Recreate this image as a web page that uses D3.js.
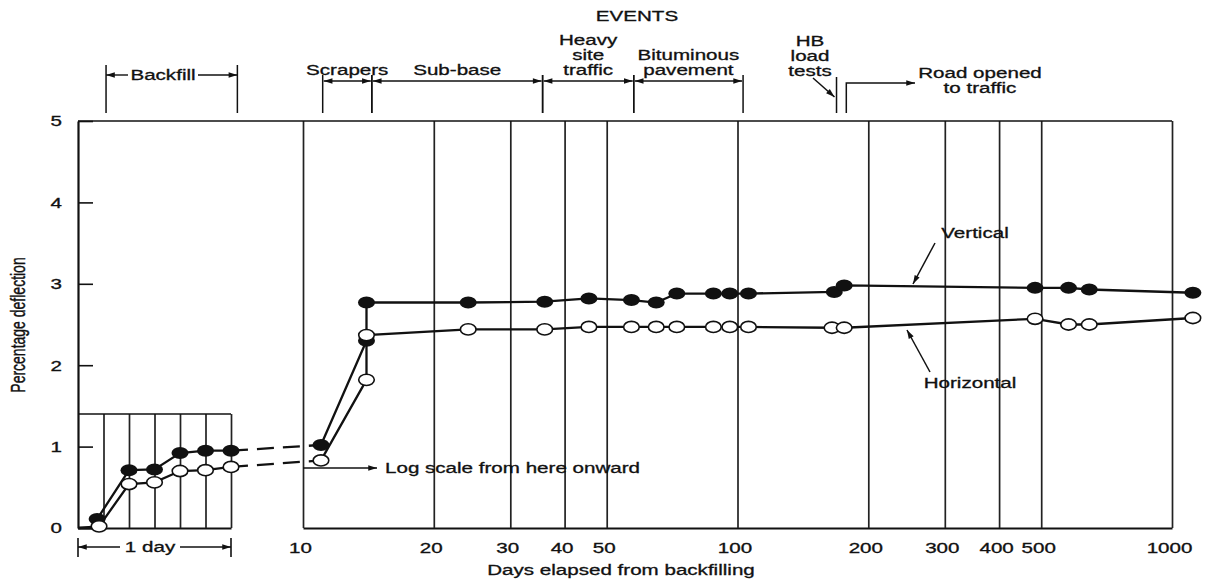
<!DOCTYPE html>
<html>
<head>
<meta charset="utf-8">
<script src="https://cdn.jsdelivr.net/npm/d3@7"></script>
<style>
  html, body { margin: 0; padding: 0; background: #fff; }
  svg { display: block; }
  text { font-family: "Liberation Sans", Arial, Helvetica, sans-serif; fill: #111; stroke: #111; stroke-width: 0.3px; }
</style>
</head>
<body>
<svg id="chart" width="1209" height="580"></svg>
<script>
// ---- tick values ----
const yTicks = [0, 1, 2, 3, 4, 5];
const dayTicks = [10, 20, 30, 40, 50, 100, 200, 300, 400, 500, 1000];
const hourGrid = [4, 8, 12, 16, 20, 24];

// ---- first day (hours after backfilling, linear) ----
// the first entries are the unmarked starting trace along zero
const earlyHoursVertical   = [0, 2.2, 3, 8, 12, 16, 20, 24];
const earlyVertical        = [0, 0, 0.11, 0.71, 0.72, 0.92, 0.95, 0.95];
const earlyHoursHorizontal = [0, 3.3, 8, 12, 16, 20, 24];
const earlyHorizontal      = [0, 0.02, 0.54, 0.56, 0.70, 0.71, 0.75];

// ---- day 10 onward (days, log scale) ----
const daysVertical   = [11, 14, 14, 24, 36, 45.5, 57, 65, 72.5, 88, 96, 106, 167, 176, 484, 578, 645, 1117];
const lateVertical   = [1.02, 2.30, 2.77, 2.77, 2.78, 2.82, 2.80, 2.77, 2.88, 2.88, 2.88, 2.88, 2.90, 2.98, 2.95, 2.95, 2.93, 2.89];
const daysHorizontal = [11, 14, 14, 24, 36, 45.5, 57, 65, 72.5, 88, 96, 106, 165, 176, 484, 578, 645, 1117];
const lateHorizontal = [0.83, 1.82, 2.37, 2.44, 2.44, 2.47, 2.47, 2.47, 2.47, 2.47, 2.47, 2.47, 2.46, 2.46, 2.57, 2.50, 2.50, 2.58];

// ---- construction events ----
const backfillHours = [4.4, 25];
const phaseLabels = [["Scrapers"], ["Sub-base"], ["Heavy", "site", "traffic"], ["Bituminous", "pavement"]];
const phaseStart  = [11.1, 14.4, 35.6, 57.7];
const phaseEnd    = [14.4, 35.6, 57.7, 103];
const hbTestDay = 169;
const roadOpenDay = 178;

// ---- scales ----
const svg = d3.select("#chart");
const ink = "#111";
const SX = 1.47;              // horizontal stretch of the lettering
const y  = d3.scaleLinear().domain([0, 5]).range([528, 121]);
const xH = d3.scaleLinear().domain([0, 24]).range([78, 231]);
const xD = d3.scaleLog().domain([10, 1000]).range([303, 1172]);

const defs = svg.append("defs");
defs.append("marker")
  .attr("id", "arrow").attr("viewBox", "0 -4 10 8")
  .attr("refX", 10).attr("refY", 0)
  .attr("markerWidth", 10).attr("markerHeight", 7)
  .attr("markerUnits", "userSpaceOnUse")
  .attr("orient", "auto-start-reverse")
  .append("path").attr("d", "M0,-3.2L10,0L0,3.2Z").attr("fill", ink);

function label(g, x, yy, str, size, anchor) {
  return g.append("text")
    .attr("transform", `translate(${x},${yy}) scale(${SX},1)`)
    .attr("text-anchor", anchor || "middle")
    .attr("dy", "0.35em")
    .style("font-size", (size || 14) + "px")
    .text(str);
}
function seg(g, x1, y1, x2, y2, w, arrows) {
  const l = g.append("line").attr("x1", x1).attr("y1", y1).attr("x2", x2).attr("y2", y2)
    .attr("stroke", ink).attr("stroke-width", w || 1.4);
  if (arrows === "both") l.attr("marker-start", "url(#arrow)").attr("marker-end", "url(#arrow)");
  if (arrows === "start") l.attr("marker-start", "url(#arrow)");
  if (arrows === "end") l.attr("marker-end", "url(#arrow)");
  return l;
}
// dimension line with the caption sitting in a gap of the line
function dimension(g, a, b, yy, text, cx, gap) {
  seg(g, a, yy, cx - gap / 2, yy, 1.4, "start");
  seg(g, cx + gap / 2, yy, b, yy, 1.4, "end");
  label(g, cx, yy, text, 14);
}

// ---- frame and grid ----
const frame = svg.append("g");
const plotH = y(0) - y(5);

// log-scale section: full-height grid lines from each tick
const gx = frame.append("g").attr("transform", `translate(0,${y(0)})`)
  .call(d3.axisBottom(xD).tickValues(dayTicks).tickFormat(d3.format("d"))
    .tickSizeInner(-plotH).tickSizeOuter(0).tickPadding(15));
gx.select(".domain").attr("stroke", ink).attr("stroke-width", 1.8);
gx.selectAll(".tick line").attr("stroke", "#222").attr("stroke-width", 1.7);
gx.attr("font-family", null).attr("font-size", null);
gx.selectAll(".tick text").style("font-size", "14px")
  .attr("transform", `translate(-3,0) scale(${SX},1)`);

// first-day section: small box up to 1.4 with 4-hour grid lines
const boxTop = 1.4;
const gh = frame.append("g").attr("transform", `translate(0,${y(0)})`)
  .call(d3.axisBottom(xH).tickValues(hourGrid).tickFormat("")
    .tickSizeInner(-(y(0) - y(boxTop))).tickSizeOuter(0));
gh.select(".domain").attr("stroke", ink).attr("stroke-width", 1.8);
gh.selectAll(".tick line").attr("stroke", "#222").attr("stroke-width", 1.7);
seg(frame, xH(0), y(boxTop), xH(24), y(boxTop), 1.6);

// top border
seg(frame, xH(0), y(5), xD(1000), y(5), 1.6);

// y axis with inward ticks
const gy = frame.append("g").attr("transform", `translate(${xH(0)},0)`)
  .call(d3.axisLeft(y).tickValues(yTicks).tickFormat(d3.format("d"))
    .tickSizeInner(-15).tickSizeOuter(0).tickPadding(0));
gy.select(".domain").attr("stroke", ink).attr("stroke-width", 2.2);
gy.selectAll(".tick line").attr("stroke", ink).attr("stroke-width", 1.6);
gy.attr("font-family", null).attr("font-size", null);
gy.selectAll(".tick text").style("font-size", "14px")
  .attr("x", 0).attr("dy", "0.35em")
  .attr("transform", `translate(-16,0) scale(${SX},1)`);

// axis titles
label(svg, 0, 0, "Percentage deflection", 14)
  .attr("transform", `translate(18,325) scale(${SX},1) rotate(-90)`);
label(svg, 621, 570, "Days elapsed from backfilling", 14);

// "1 day" dimension under the first section
const ann = svg.append("g");
seg(ann, xH(0), 538, xH(0), 557, 1.6);
seg(ann, xH(24), 538, xH(24), 557, 1.6);
dimension(ann, xH(0), xH(24), 547, "1 day", 150, 60);

// log-scale note
seg(ann, xD(10), 468, 377, 468, 1.4, "end");
label(ann, 385, 468, "Log scale from here onward", 14, "start");

// ---- series ----
const line = d3.line().x(d => d.x).y(d => d.y);
const earlyV = earlyHoursVertical.map((h, i) => ({ x: xH(h), y: y(earlyVertical[i]) }));
const earlyHz = earlyHoursHorizontal.map((h, i) => ({ x: xH(h), y: y(earlyHorizontal[i]) }));
const lateV = daysVertical.map((d, i) => ({ x: xD(d), y: y(lateVertical[i]) }));
const lateHz = daysHorizontal.map((d, i) => ({ x: xD(d), y: y(lateHorizontal[i]) }));

const series = svg.append("g").attr("fill", "none").attr("stroke", ink).attr("stroke-width", 2.3);
[[earlyHz, lateHz], [earlyV, lateV]].forEach(([early, late]) => {
  series.append("path").attr("d", line(early));
  series.append("path").attr("d", line([early[early.length - 1], late[0]]))
    .attr("stroke-dasharray", "17,9");
  series.append("path").attr("d", line(late));
});

// markers: vertical (filled) first, horizontal (open) on top
const marks = svg.append("g");
marks.selectAll("ellipse.filled").data(earlyV.slice(2).concat(lateV)).join("ellipse")
  .attr("class", "filled")
  .attr("cx", d => d.x).attr("cy", d => d.y).attr("rx", 8.5).attr("ry", 6)
  .attr("fill", ink);
marks.selectAll("ellipse.open").data(earlyHz.slice(1).concat(lateHz)).join("ellipse")
  .attr("class", "open")
  .attr("cx", d => d.x).attr("cy", d => d.y).attr("rx", 7.8).attr("ry", 5.6)
  .attr("fill", "#fff").attr("stroke", ink).attr("stroke-width", 1.6);

// series labels with pointers
label(ann, 975, 233, "Vertical", 14);
seg(ann, 935, 243, 913, 284, 1.5, "end");
label(ann, 970, 383, "Horizontal", 14);
seg(ann, 930, 372, 907, 330, 1.5, "end");

// ---- events strip ----
const ev = svg.append("g");
label(ev, 637, 16, "EVENTS", 14);

// backfill
const bf0 = xH(backfillHours[0]), bf1 = xH(backfillHours[1]);
seg(ev, bf0, 65, bf0, 113, 1.5);
seg(ev, bf1, 65, bf1, 113, 1.5);
dimension(ev, bf0, bf1, 75, "Backfill", 163, 70);

// construction phases
phaseLabels.forEach((lines, i) => {
  const a = xD(phaseStart[i]), b = xD(phaseEnd[i]);
  seg(ev, a, 75, a, 113, 1.5);
  seg(ev, b, 75, b, 113, 1.5);
  seg(ev, a + 1, 81, b - 1, 81, 1.4, "both");
  const cx = (a + b) / 2;
  lines.forEach((t, k) => label(ev, cx, 70 - (lines.length - 1 - k) * 15, t, 14));
});

// HB load tests
const hb = xD(hbTestDay);
seg(ev, hb, 77, hb, 113, 1.5);
["HB", "load", "tests"].forEach((t, k) => label(ev, 810, 41 + k * 15, t, 14));
seg(ev, 813, 78, hb - 2, 97, 1.5, "end");

// road opened to traffic
const ro = xD(roadOpenDay);
ev.append("path").attr("d", `M${ro},113V83H915`).attr("fill", "none")
  .attr("stroke", ink).attr("stroke-width", 1.5).attr("marker-end", "url(#arrow)");
label(ev, 980, 73, "Road opened", 14);
label(ev, 980, 88, "to traffic", 14);
</script>
</body>
</html>
